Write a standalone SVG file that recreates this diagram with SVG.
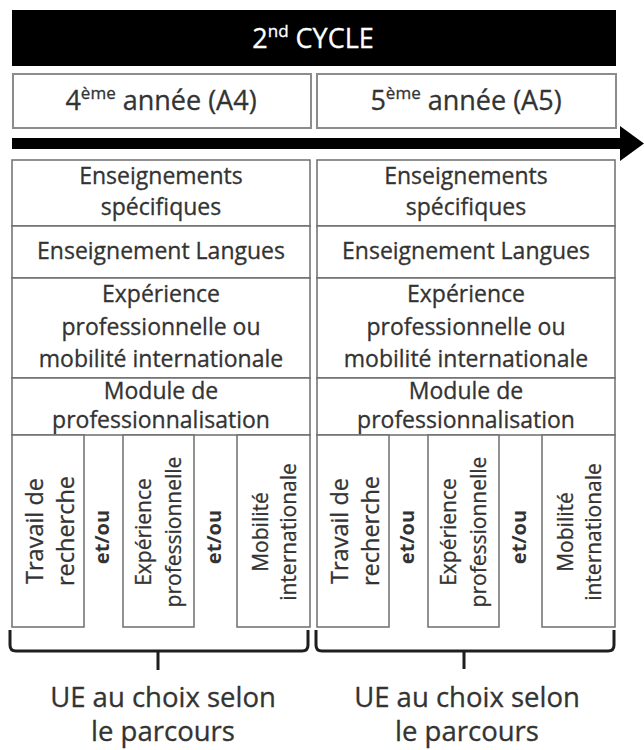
<svg xmlns="http://www.w3.org/2000/svg" width="644" height="750" viewBox="0 0 644 750">
<style>
text{font-family:"Open Sans","Noto Sans","Liberation Sans",sans-serif;fill:#333;stroke:#333;stroke-width:0.3;text-anchor:middle}
.hd{fill:#ffffff;stroke:#ffffff;font-size:27px}
.yr{font-size:27px}
.box{fill:#ffffff;stroke:#6e6e6e;stroke-width:1.5}
.ybox{fill:#ffffff;stroke:#8c8c8c;stroke-width:2}
.t{font-size:23px}
.v1{font-size:23.5px}
.v2{font-size:21px}
.eo{font-size:20px;font-weight:bold;stroke-width:0}
.ue{font-size:27.5px}
.br{fill:none;stroke:#1e1e1e;stroke-width:3;stroke-linejoin:round}
</style>
<rect width="644" height="750" fill="#ffffff"/>

<g id="cycle">
<rect x="12" y="10" width="604" height="56" fill="#000"/>
<text class="hd" x="313" y="48"><tspan>2</tspan><tspan font-size="17" dy="-11">nd</tspan><tspan dy="11"> CYCLE</tspan></text>
</g>

<g id="year4">
<rect class="ybox" x="13" y="74" width="298" height="54"/>
<text class="yr" x="161" y="110"><tspan>4</tspan><tspan font-size="17" dy="-11">ème</tspan><tspan dy="11"> année (A4)</tspan></text>
</g>
<g id="year5">
<rect class="ybox" x="317" y="74" width="299" height="54"/>
<text class="yr" x="466" y="110"><tspan>5</tspan><tspan font-size="17" dy="-11">ème</tspan><tspan dy="11"> année (A5)</tspan></text>
</g>

<g id="a4-specifiques">
<rect class="box" x="12" y="160" width="298" height="66"/>
<text class="t" x="161" y="184">Enseignements</text>
<text class="t" x="161" y="215">spécifiques</text>
</g>
<g id="a4-langues">
<rect class="box" x="12" y="226" width="298" height="52"/>
<text class="t" x="161" y="259">Enseignement Langues</text>
</g>
<g id="a4-experience">
<rect class="box" x="12" y="278" width="298" height="100"/>
<text class="t" x="161" y="302">Expérience</text>
<text class="t" x="161" y="335">professionnelle ou</text>
<text class="t" x="161" y="367">mobilité internationale</text>
</g>
<g id="a4-module">
<rect class="box" x="12" y="378" width="298" height="57"/>
<text class="t" x="161" y="399">Module de</text>
<text class="t" x="161" y="428">professionnalisation</text>
</g>
<g id="a4-recherche">
<rect class="box" x="12" y="435" width="72" height="192"/>
<text class="v1" transform="translate(43,531) rotate(-90)">Travail de</text>
<text class="v1" transform="translate(74,531) rotate(-90)">recherche</text>
</g>
<g id="a4-etou1">
<text class="eo" transform="translate(109,537) rotate(-90)">et/ou</text>
</g>
<g id="a4-pro">
<rect class="box" x="123" y="435" width="71" height="192"/>
<text class="v2" transform="translate(151,532) rotate(-90)">Expérience</text>
<text class="v2" transform="translate(181,532) rotate(-90)">professionnelle</text>
</g>
<g id="a4-etou2">
<text class="eo" transform="translate(221,537) rotate(-90)">et/ou</text>
</g>
<g id="a4-mobilite">
<rect class="box" x="237" y="435" width="73" height="192"/>
<text class="v2" transform="translate(268,532) rotate(-90)">Mobilité</text>
<text class="v2" transform="translate(296,532) rotate(-90)">internationale</text>
</g>

<g id="a5-specifiques" transform="translate(305,0)">
<rect class="box" x="12" y="160" width="298" height="66"/>
<text class="t" x="161" y="184">Enseignements</text>
<text class="t" x="161" y="215">spécifiques</text>
</g>
<g id="a5-langues" transform="translate(305,0)">
<rect class="box" x="12" y="226" width="298" height="52"/>
<text class="t" x="161" y="259">Enseignement Langues</text>
</g>
<g id="a5-experience" transform="translate(305,0)">
<rect class="box" x="12" y="278" width="298" height="100"/>
<text class="t" x="161" y="302">Expérience</text>
<text class="t" x="161" y="335">professionnelle ou</text>
<text class="t" x="161" y="367">mobilité internationale</text>
</g>
<g id="a5-module" transform="translate(305,0)">
<rect class="box" x="12" y="378" width="298" height="57"/>
<text class="t" x="161" y="399">Module de</text>
<text class="t" x="161" y="428">professionnalisation</text>
</g>
<g id="a5-recherche" transform="translate(305,0)">
<rect class="box" x="12" y="435" width="72" height="192"/>
<text class="v1" transform="translate(43,531) rotate(-90)">Travail de</text>
<text class="v1" transform="translate(74,531) rotate(-90)">recherche</text>
</g>
<g id="a5-etou1" transform="translate(305,0)">
<text class="eo" transform="translate(109,537) rotate(-90)">et/ou</text>
</g>
<g id="a5-pro" transform="translate(305,0)">
<rect class="box" x="123" y="435" width="71" height="192"/>
<text class="v2" transform="translate(151,532) rotate(-90)">Expérience</text>
<text class="v2" transform="translate(181,532) rotate(-90)">professionnelle</text>
</g>
<g id="a5-etou2" transform="translate(305,0)">
<text class="eo" transform="translate(221,537) rotate(-90)">et/ou</text>
</g>
<g id="a5-mobilite" transform="translate(305,0)">
<rect class="box" x="237" y="435" width="73" height="192"/>
<text class="v2" transform="translate(268,532) rotate(-90)">Mobilité</text>
<text class="v2" transform="translate(296,532) rotate(-90)">internationale</text>
</g>

<g id="ue-a4">
<text class="ue" x="163" y="707">UE au choix selon</text>
<text class="ue" x="163" y="741">le parcours</text>
</g>
<g id="ue-a5">
<text class="ue" x="467" y="707">UE au choix selon</text>
<text class="ue" x="467" y="741">le parcours</text>
</g>

<g id="connectors">
<rect x="12" y="138" width="609" height="11" fill="#000"/>
<polygon points="620,126 644,143.5 620,161" fill="#000"/>
<path class="br" d="M10 630 L10 645 Q10 651 16 651 L302 651 Q308 651 308 645 L308 630 M158 651 L158 670"/>
<path class="br" d="M316 630 L316 645 Q316 651 322 651 L608 651 Q614 651 614 645 L614 630 M464 651 L464 669"/>
</g>
</svg>
